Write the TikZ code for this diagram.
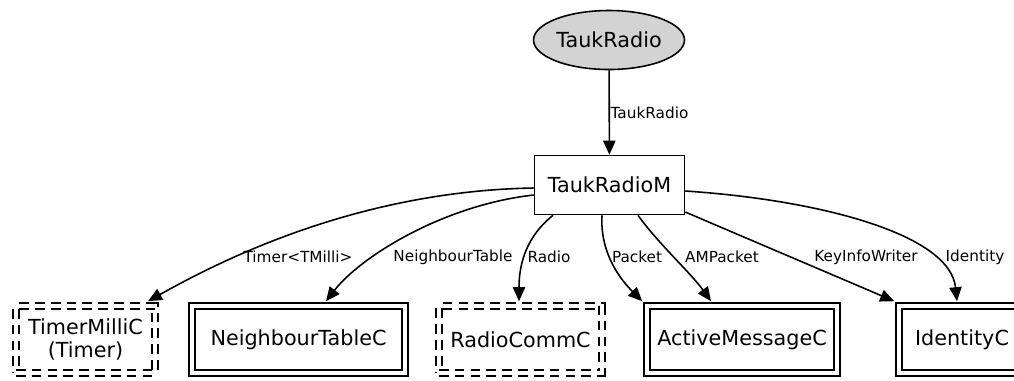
\documentclass[tikz,border=0pt]{standalone}
\usepackage{fontspec}
\setmainfont{DejaVu Sans}
\usepackage{tikz}
\usetikzlibrary{arrows.meta, shapes.geometric, calc, positioning}

\definecolor{lightgrey}{RGB}{211,211,211}
\tikzset{
    comp/.style={draw, line width=0.9pt, inner sep=0pt, align=center, font=\fontsize{11.8}{12.8}\selectfont},
    dbl/.style={comp, double, double distance=2.8pt},
    dbldash/.style={dbl, dash pattern=on 5.5pt off 3.5pt},
    dep/.style={line width=0.9pt, -{Triangle[length=8pt, width=7pt]}},
    lbl/.style={font=\fontsize{8.7}{9.5}\selectfont, inner sep=1pt}
}

\begin{document}
\begin{tikzpicture}[x=0.02cm, y=-0.02cm]
                        \useasboundingbox (0, 0) rectangle (1014, 380);

                        \node[comp, ellipse, fill=lightgrey, minimum width=3.02cm, minimum height=1.18cm] (iface) at (609, 40) {TaukRadio};
                        \node[comp, minimum width=3cm, minimum height=1.18cm] (m) at (609.5, 185) {TaukRadioM};

                        \node[dbldash, minimum width=2.78cm, minimum height=1.34cm] (tm) at (85.5, 339.5) {TimerMilliC\\(Timer)};
                        \node[dbl, minimum width=4.26cm, minimum height=1.34cm] (nt) at (298.5, 339.5) {NeighbourTableC};
                        \node[dbldash, minimum width=3.26cm, minimum height=1.34cm] (rc) at (520.5, 339.5) {RadioCommC};
                        \node[dbl, minimum width=3.8cm, minimum height=1.34cm] (am) at (742, 339.5) {ActiveMessageC};
                        \node[dbl, minimum width=2.52cm, minimum height=1.34cm] (id) at (962, 339.5) {IdentityC};

                        \draw[dep] (iface) -- (m) node[lbl] at (649.5, 113) {TaukRadio};

                        % wires out of the module
                        \draw[dep] ($(m.west)+(0, 3)$) .. controls +(-175, 3) and +(75, -42) .. ($(tm.north)+(62.5, -4)$)
                        node[lbl] at (298, 257) {Timer<TMilli>};
                        \draw[dep] ($(m.west)+(0, 10)$) .. controls +(-90, 10) and +(35, -45) .. ($(nt.north)+(27.5, -4)$)
                        node[lbl] at (453, 257) {NeighbourTable};
                        \draw[dep] ($(m.south)+(-56.5, 0)$) .. controls +(-25, 20) and +(0, -40) .. ($(rc.north)+(-1.5, -4)$)
                        node[lbl] at (549, 257) {Radio};
                        \draw[dep] ($(m.south)+(-7.5, 0)$) .. controls +(-2, 35) and +(-25, -25) .. ($(am.north west)+(-4, -4)$)
                        node[lbl] at (637, 257) {Packet};
                        \draw[dep] ($(m.south)+(28.5, 0)$) .. controls +(20, 28) and +(-20, -28) .. ($(am.north)+(-31, -4)$)
                        node[lbl] at (722, 257) {AMPacket};
                        \draw[dep] ($(m.east)+(0, 27)$) .. controls +(70, 30) and +(-70, -30) .. ($(id.north west)+(-4, -4)$)
                        node[lbl] at (866, 257) {KeyInfoWriter};
                        \draw[dep] ($(m.east)+(0, 6)$) .. controls +(135, 9) and +(-7, -67) .. ($(id.north)+(-5, -4)$)
                        node[lbl] at (975, 257) {Identity};
                    \end{tikzpicture}
\end{document}
